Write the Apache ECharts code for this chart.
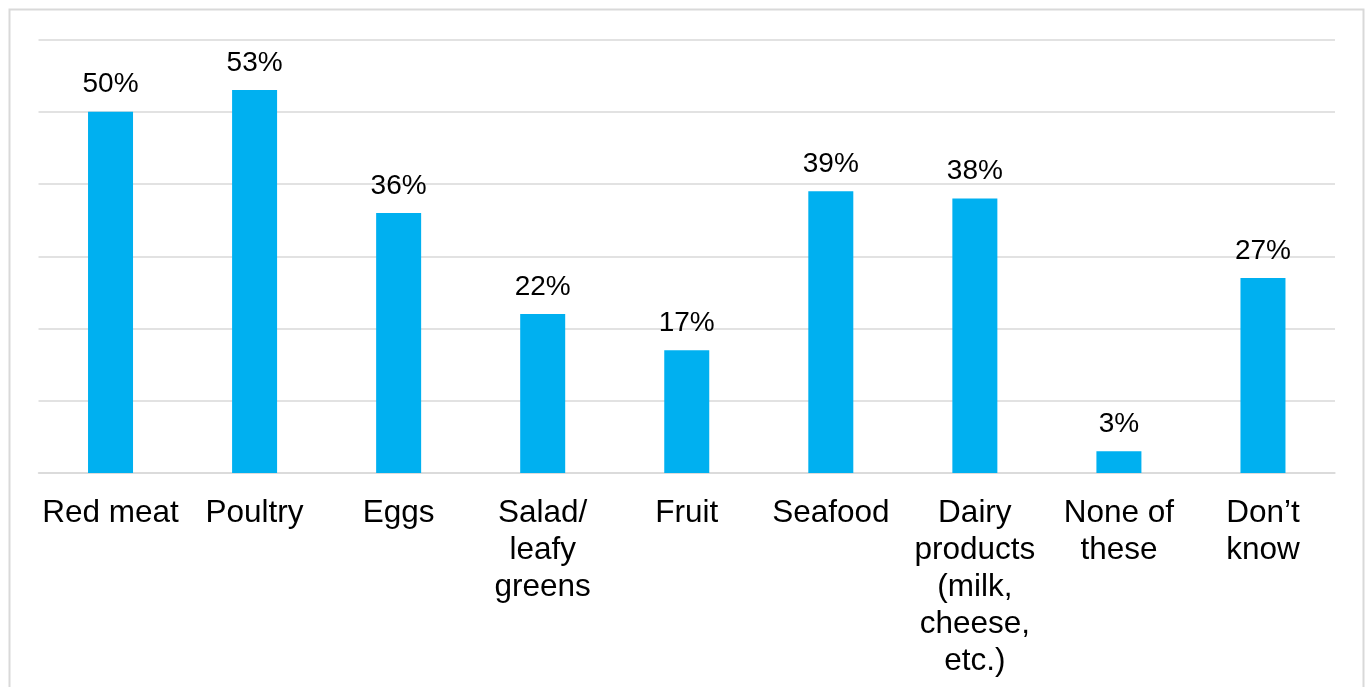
<!DOCTYPE html>
<html>
<head>
<meta charset="utf-8">
<script src="https://cdn.jsdelivr.net/npm/echarts@6/dist/echarts.min.js"></script>
<style>
html,body{margin:0;padding:0;background:#fff;}
#chart{width:1370px;height:687px;}
</style>
</head>
<body>
<div id="chart"></div>
<script>
const categories = ["Red meat", "Poultry", "Eggs", "Salad/\nleafy\ngreens", "Fruit", "Seafood", "Dairy\nproducts\n(milk,\ncheese,\netc.)", "None of\nthese", "Don\u2019t\nknow"];
const values = [50, 53, 36, 22, 17, 39, 38, 3, 27];
const yMin = 0, yMax = 60, yStep = 10;

const chart = echarts.init(document.getElementById('chart'), null, {renderer: 'canvas'});
const FONT = "'Liberation Sans', Arial, sans-serif";
chart.setOption({
  animation: false,
  backgroundColor: '#ffffff',
  graphic: [{
    type: 'rect', silent: true, z: 100,
    shape: {x: 9.5, y: 9.5, width: 1354, height: 720},
    style: {fill: 'none', stroke: '#d9d9d9', lineWidth: 2}
  }],
  grid: {left: 38.5, right: 35, top: 39.5, bottom: 214, containLabel: false},
  xAxis: {
    type: 'category',
    data: categories,
    axisLine: {show: true, lineStyle: {color: '#d9d9d9', width: 1.5}},
    axisTick: {show: false},
    axisLabel: {
      interval: 0, color: '#000', fontFamily: FONT, fontSize: 31.5,
      lineHeight: 37, margin: 22, align: 'center'
    }
  },
  yAxis: {
    type: 'value', min: yMin, max: yMax, interval: yStep,
    axisLine: {show: false}, axisTick: {show: false}, axisLabel: {show: false},
    splitLine: {show: true, lineStyle: {color: '#d9d9d9', width: 1.5}}
  },
  series: [{
    type: 'bar',
    data: values,
    barWidth: 45,
    itemStyle: {color: '#00B0F0'},
    label: {
      show: true, position: 'top', distance: 13,
      formatter: p => p.value + '%',
      color: '#000', fontFamily: FONT, fontSize: 28
    }
  }]
});
</script>
</body>
</html>
